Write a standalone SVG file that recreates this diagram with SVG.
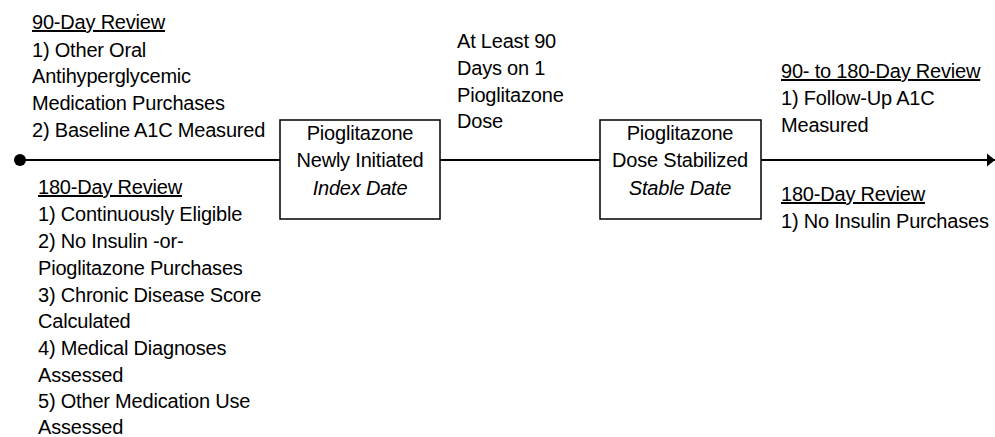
<svg xmlns="http://www.w3.org/2000/svg" width="995" height="437" viewBox="0 0 995 437">
<defs>
<style>
text{font-family:"Liberation Sans",Arial,sans-serif;font-size:20px;letter-spacing:-0.2px;fill:#000;}
.c{text-anchor:middle;}
.i{font-style:italic;}
.u{text-decoration:underline;}
.box{fill:#fff;stroke:#000;stroke-width:1.5;}
.ln{stroke:#000;stroke-width:2;fill:none;}
</style>
<marker id="arr" markerWidth="10" markerHeight="14" refX="8" refY="7" orient="auto" markerUnits="userSpaceOnUse">
<path d="M0,0.5 L8,7 L0,13.5 Z" fill="#000"/>
</marker>
</defs>
<rect width="995" height="437" fill="#fff"/>
<g id="connectors">
<circle cx="20" cy="160" r="6" fill="#000"/>
<line class="ln" x1="20" y1="160" x2="280" y2="160"/>
<line class="ln" x1="440" y1="160" x2="600" y2="160"/>
<line class="ln" x1="761" y1="160" x2="995" y2="160" marker-end="url(#arr)"/>
</g>
<g id="node-index">
<rect class="box" x="280" y="120" width="160" height="99"/>
<text class="c" x="360" y="140">Pioglitazone</text>
<text class="c" x="360" y="167">Newly Initiated</text>
<text class="c i" x="360" y="195">Index Date</text>
</g>
<g id="node-stable">
<rect class="box" x="600" y="120" width="161" height="99"/>
<text class="c" x="680" y="140">Pioglitazone</text>
<text class="c" x="680" y="167">Dose Stabilized</text>
<text class="c i" x="680" y="195">Stable Date</text>
</g>
<g id="label-90day">
<text class="u" x="32" y="29">90-Day Review</text>
<text x="32" y="57">1) Other Oral</text>
<text x="32" y="83">Antihyperglycemic</text>
<text x="32" y="110">Medication Purchases</text>
<text x="32" y="137">2) Baseline A1C Measured</text>
</g>
<g id="label-180day-left">
<text class="u" x="38" y="194">180-Day Review</text>
<text x="38" y="221">1) Continuously Eligible</text>
<text x="38" y="248">2) No Insulin -or-</text>
<text x="38" y="275">Pioglitazone Purchases</text>
<text x="38" y="302">3) Chronic Disease Score</text>
<text x="38" y="328">Calculated</text>
<text x="38" y="355">4) Medical Diagnoses</text>
<text x="38" y="382">Assessed</text>
<text x="38" y="408">5) Other Medication Use</text>
<text x="38" y="434">Assessed</text>
</g>
<g id="label-90days">
<text x="457" y="48">At Least 90</text>
<text x="457" y="75">Days on 1</text>
<text x="457" y="102">Pioglitazone</text>
<text x="457" y="128">Dose</text>
</g>
<g id="label-right">
<text class="u" x="781" y="78">90- to 180-Day Review</text>
<text x="781" y="105">1) Follow-Up A1C</text>
<text x="781" y="132">Measured</text>
<text class="u" x="781" y="201">180-Day Review</text>
<text x="781" y="228">1) No Insulin Purchases</text>
</g>
</svg>
